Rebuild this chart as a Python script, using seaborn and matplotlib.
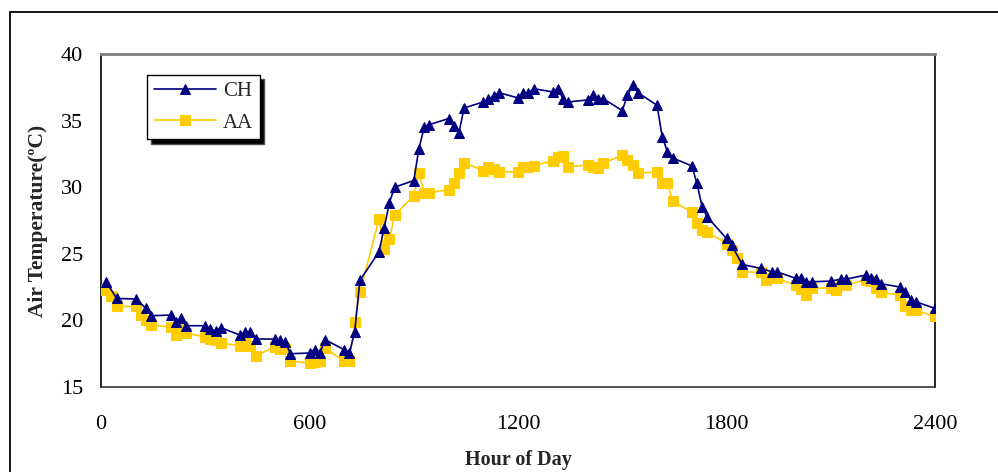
import matplotlib
matplotlib.use("Agg")
import matplotlib.pyplot as plt
from matplotlib.lines import Line2D
import seaborn as sns
import pandas as pd

# ---- data (Hour of Day as HHMM, temperature in degC) ----
ch_hours = [15, 45, 100, 130, 145, 200, 215, 230, 245, 300, 315, 330, 345,
            400, 415, 430, 445, 500, 515, 530, 545, 600, 615, 630, 645,
            700, 715, 730, 745, 800, 815, 830, 845, 900, 915, 930, 945,
            1000, 1015, 1030, 1045, 1100, 1115, 1130, 1145, 1200, 1215, 1230, 1245,
            1300, 1315, 1330, 1345, 1400, 1415, 1430, 1445, 1500, 1515, 1530, 1545,
            1600, 1615, 1630, 1645, 1700, 1715, 1730, 1745, 1800, 1815, 1845,
            1900, 1930, 1945, 2000, 2015, 2030, 2045, 2100, 2130, 2145,
            2200, 2215, 2230, 2245, 2300, 2315, 2330, 2345, 2400]
ch_temps = [22.9, 21.65, 21.6, 20.9, 20.35, 20.4, 19.9, 20.15, 19.6, 19.6, 19.35, 19.2, 19.45,
            18.9, 19.1, 19.1, 18.6, 18.6, 18.5, 18.4, 17.5, 17.55, 17.8, 17.55, 18.55,
            17.8, 17.55, 19.15, 23.0, 25.15, 26.95, 28.85, 30.0, 30.5, 32.9, 34.5, 34.7,
            35.15, 34.6, 34.1, 35.95, 36.4, 36.6, 36.85, 37.1, 36.7, 37.1, 37.05, 37.4,
            37.15, 37.4, 36.6, 36.4, 36.55, 36.95, 36.6, 36.65, 35.75, 36.9, 37.65, 37.1,
            36.15, 33.8, 32.65, 32.2, 31.6, 30.3, 28.5, 27.75, 26.15, 25.65, 24.2,
            23.9, 23.65, 23.65, 23.15, 23.15, 22.9, 22.9, 22.95, 23.1, 23.1,
            23.4, 23.2, 23.1, 22.75, 22.5, 22.15, 21.55, 21.4, 20.9]

aa_hours = [15, 30, 45, 100, 115, 130, 145, 200, 215, 230, 245, 300, 315, 330, 345,
            400, 415, 430, 445, 500, 515, 530, 545, 600, 615, 630, 645,
            700, 715, 730, 745, 800, 815, 830, 845, 900, 915, 930, 945,
            1000, 1015, 1030, 1045, 1100, 1115, 1130, 1145, 1200, 1215, 1230, 1245,
            1300, 1315, 1330, 1345, 1400, 1415, 1430, 1445, 1500, 1515, 1530, 1545,
            1600, 1615, 1630, 1645, 1700, 1715, 1730, 1745, 1800, 1815, 1830, 1845,
            1900, 1915, 1930, 1945, 2000, 2015, 2030, 2045, 2100, 2115, 2130, 2145,
            2200, 2215, 2230, 2245, 2300, 2315, 2330, 2345, 2400]
aa_temps = [22.3, 21.8, 21.05, 21.05, 20.4, 20.0, 19.65, 19.5, 18.9, 19.5, 19.05, 18.75, 18.6, 18.55, 18.3,
            18.1, 18.4, 18.1, 17.35, 18.0, 17.85, 17.9, 16.95, 16.8, 16.9, 16.95, 17.9,
            16.95, 16.95, 19.9, 22.1, 27.6, 25.35, 26.1, 27.9, 29.35, 31.05, 29.6, 29.6,
            29.8, 30.3, 31.05, 31.85, 31.25, 31.5, 31.35, 31.15, 31.15, 31.5, 31.5, 31.6,
            32.0, 32.25, 32.35, 31.55, 31.65, 31.55, 31.45, 31.8, 32.4, 32.05, 31.65, 31.05,
            31.15, 30.3, 30.3, 28.95, 28.15, 27.3, 26.75, 26.65, 25.75, 25.3, 24.7, 23.65,
            23.6, 23.0, 23.15, 23.15, 22.65, 22.35, 21.9, 22.4, 22.45, 22.25, 22.65, 22.65,
            23.05, 22.95, 22.4, 22.1, 21.9, 21.05, 20.75, 20.75, 20.3]

series_names = ["CH", "AA"]
series_colors = ["#000080", "#FFCC00"]
x_ticks = [0, 600, 1200, 1800, 2400]
y_ticks = [15, 20, 25, 30, 35, 40]

# ---- figure ----
sns.set_style("white")
plt.rcParams["font.family"] = ["Liberation Serif", "DejaVu Serif"]

W, H = 998, 472
fig = plt.figure(figsize=(W / 100, H / 100), dpi=100)
ax = fig.add_axes([101 / W, 1 - 387 / H, (935 - 101) / W, (387 - 54) / H])

df_ch = pd.DataFrame({"hour": ch_hours, "temp": ch_temps})
df_aa = pd.DataFrame({"hour": aa_hours, "temp": aa_temps})

sns.lineplot(data=df_aa, x="hour", y="temp", ax=ax, color=series_colors[1],
             marker="s", markersize=6.5, markeredgecolor=series_colors[1],
             linewidth=1.2, label=series_names[1], zorder=3)
sns.lineplot(data=df_ch, x="hour", y="temp", ax=ax, color=series_colors[0],
             marker="^", markersize=7.5, markeredgecolor=series_colors[0],
             linewidth=1.2, label=series_names[0], zorder=4)

ax.set_xlim(0, 2400)
ax.set_ylim(15, 40)
ax.set_xticks(x_ticks)
ax.set_xticklabels([str(t) for t in x_ticks])
ax.set_yticks(y_ticks)
ax.set_yticklabels([str(t) for t in y_ticks])
ax.tick_params(axis="both", direction="out", length=5, width=1, color="black",
               labelsize=16, labelcolor="black")
ax.tick_params(axis="x", pad=15)
ax.tick_params(axis="y", pad=8)

for side in ["left", "right", "bottom"]:
    ax.spines[side].set_visible(True)
    ax.spines[side].set_color("black")
    ax.spines[side].set_linewidth(1.2)
ax.spines["bottom"].set_color("#333333")
ax.spines["top"].set_visible(True)
ax.spines["top"].set_color("#808080")
ax.spines["top"].set_linewidth(2)

ax.set_xlabel("Hour of Day", fontsize=14.5, fontweight="bold")
ax.set_ylabel("Air Temperature(ºC)", fontsize=15.5, fontweight="bold")
ax.xaxis.set_label_coords(0.5, -0.19)
ax.yaxis.set_label_coords(-0.064, 0.5)

# legend in order CH, AA
handles, labels = ax.get_legend_handles_labels()
order = [labels.index(n) for n in series_names]
leg = ax.legend([handles[i] for i in order], [labels[i] for i in order],
                loc="upper left", bbox_to_anchor=(147 / W, 1 - 75 / H),
                bbox_transform=fig.transFigure, borderaxespad=0,
                frameon=True, fancybox=False, fontsize=15,
                handlelength=3.0, handletextpad=0.3, labelspacing=0.55,
                borderpad=0.33,
                shadow={"ox": 3, "oy": -3, "facecolor": "black", "alpha": 1})
leg.get_frame().set_edgecolor("black")
leg.get_frame().set_linewidth(1.0)
leg.get_frame().set_alpha(1)

# outer chart-area border (extends past right/bottom edge)
fig.add_artist(Line2D([10 / W, 10 / W], [0, 1 - 12 / H], transform=fig.transFigure,
                      color="black", linewidth=1.3))
fig.add_artist(Line2D([10 / W, 1], [1 - 12 / H, 1 - 12 / H], transform=fig.transFigure,
                      color="black", linewidth=1.3))

fig.savefig("out.png", dpi=100)
